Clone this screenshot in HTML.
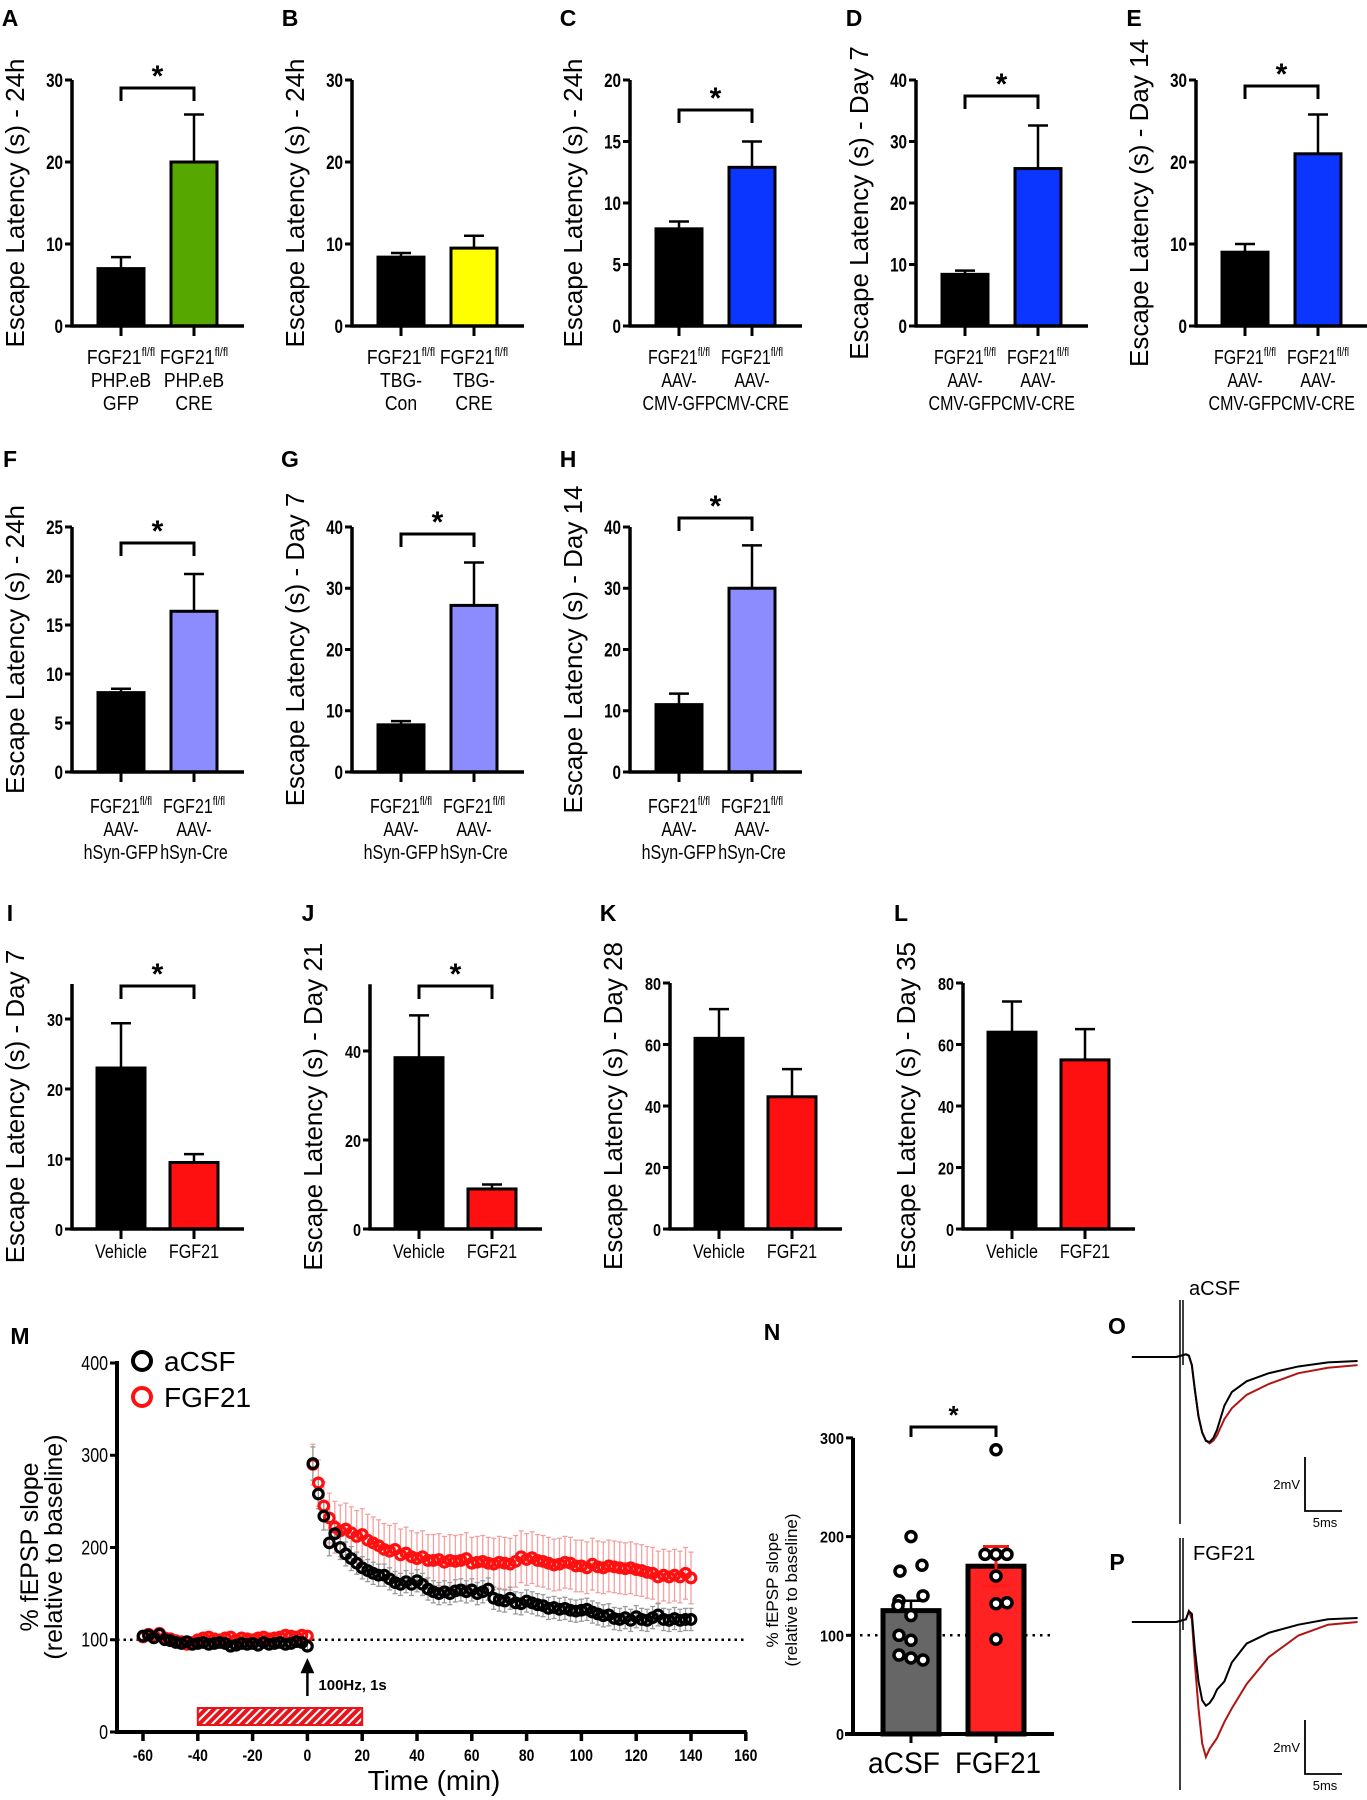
<!DOCTYPE html>
<html><head><meta charset="utf-8"><style>
html,body{margin:0;padding:0;background:#fff}
svg{display:block;font-family:"Liberation Sans",Arial,sans-serif}
</style></head><body>
<svg id="fig" width="1367" height="1800" viewBox="0 0 1367 1800" xmlns="http://www.w3.org/2000/svg">
<defs>
<pattern id="hatch" width="6" height="6" patternUnits="userSpaceOnUse" patternTransform="rotate(45)">
<rect width="6" height="6" fill="#e8141b"/><rect x="0" y="0" width="2" height="6" fill="#fff"/>
</pattern>
</defs>
</svg>
<script>
// ---------- bar panel data ----------
const panelLetters = ["A","B","C","D","E","F","G","H","I","J","K","L"];
const panelYTitles = ["Escape Latency (s) - 24h","Escape Latency (s) - 24h","Escape Latency (s) - 24h","Escape Latency (s) - Day 7","Escape Latency (s) - Day 14","Escape Latency (s) - 24h","Escape Latency (s) - Day 7","Escape Latency (s) - Day 14","Escape Latency (s) - Day 7","Escape Latency (s) - Day 21","Escape Latency (s) - Day 28","Escape Latency (s) - Day 35"];
const ctrlMeans = [7.0, 8.4, 7.9, 8.4, 9.0, 8.1, 7.7, 11.0, 23.0, 38.5, 62, 64];
const ctrlErrs  = [8.4, 8.9, 8.5, 9.0, 10.0, 8.5, 8.3, 12.8, 29.4, 48, 71.5, 74];
const trtMeans  = [20.0, 9.5, 12.9, 25.6, 21.0, 16.4, 27.2, 30.0, 9.5, 9.0, 43, 55];
const trtErrs   = [25.8, 11.0, 15.0, 32.6, 25.8, 20.2, 34.2, 37.0, 10.7, 10.0, 52, 65];
const yMaxTicks = [30, 30, 20, 40, 30, 25, 40, 40, 30, 40, 80, 80];
const yTickSteps = [10, 10, 5, 10, 10, 5, 10, 10, 10, 20, 20, 20];
const yAxisTops = [30, 30, 20, 40, 30, 25, 40, 40, 35, 55, 80, 80];
const significant = [true,false,true,true,true,true,true,true,true,true,false,false];
const trtColors = ["#56a800","#ffff00","#0a36ff","#0a36ff","#0a36ff","#8c8cff","#8c8cff","#8c8cff","#ff1010","#ff1010","#ff1010","#ff1010"];
const ctrlLabels = [["FGF21|fl/fl","PHP.eB","GFP"],["FGF21|fl/fl","TBG-","Con"],["FGF21|fl/fl","AAV-","CMV-GFP"],["FGF21|fl/fl","AAV-","CMV-GFP"],["FGF21|fl/fl","AAV-","CMV-GFP"],["FGF21|fl/fl","AAV-","hSyn-GFP"],["FGF21|fl/fl","AAV-","hSyn-GFP"],["FGF21|fl/fl","AAV-","hSyn-GFP"],["Vehicle"],["Vehicle"],["Vehicle"],["Vehicle"]];
const trtLabels = [["FGF21|fl/fl","PHP.eB","CRE"],["FGF21|fl/fl","TBG-","CRE"],["FGF21|fl/fl","AAV-","CMV-CRE"],["FGF21|fl/fl","AAV-","CMV-CRE"],["FGF21|fl/fl","AAV-","CMV-CRE"],["FGF21|fl/fl","AAV-","hSyn-Cre"],["FGF21|fl/fl","AAV-","hSyn-Cre"],["FGF21|fl/fl","AAV-","hSyn-Cre"],["FGF21"],["FGF21"],["FGF21"],["FGF21"]];
const bracketTops = [88, null, 110, 96, 86, 543, 534, 518, 986, 986, null, null];

// ---------- M panel data ----------
const mTimes = [-60,-58,-56,-54,-52,-50,-48,-46,-44,-42,-40,-38,-36,-34,-32,-30,-28,-26,-24,-22,-20,-18,-16,-14,-12,-10,-8,-6,-4,-2,0,2,4,6,8,10,12,14,16,18,20,22,24,26,28,30,32,34,36,38,40,42,44,46,48,50,52,54,56,58,60,62,64,66,68,70,72,74,76,78,80,82,84,86,88,90,92,94,96,98,100,102,104,106,108,110,112,114,116,118,120,122,124,126,128,130,132,134,136,138,140];
const acsfVals = [104,105,102,106,100,99,97,96,98,95,96,97,95,96,97,96,93,94,96,95,96,94,97,95,96,97,95,96,98,97,93,291,258,234,205,215,200,193,188,183,178,175,172,170,170,166,162,160,163,160,164,160,155,152,150,152,150,153,154,152,154,150,152,155,145,143,142,145,140,139,142,140,138,137,134,135,133,134,132,131,132,133,130,128,126,127,123,122,124,121,125,122,121,124,127,122,121,123,121,122,122];
const acsfErr = [4,4,4,4,4,4,4,4,4,4,4,4,4,4,4,4,4,4,4,4,4,4,4,4,4,4,4,4,4,4,4,18,16,15,14,14,13,13,13,12,12,12,12,12,12,12,12,12,12,12,12,12,12,12,12,12,12,12,12,12,12,12,12,12,12,12,12,12,12,12,12,12,12,12,12,12,12,12,12,12,12,12,12,12,12,12,12,12,12,12,12,12,12,12,12,12,12,12,12,12,12];
const fgfVals = [103,106,104,107,102,101,99,98,95,97,100,102,103,101,100,102,103,100,102,101,100,102,103,101,102,103,105,104,103,105,104,290,270,245,232,222,218,220,216,212,214,208,205,202,198,196,198,192,194,190,188,190,186,186,187,184,186,185,186,188,183,184,185,183,182,184,183,182,185,190,187,189,186,185,183,181,182,184,183,180,180,178,182,179,178,180,179,178,177,178,176,175,173,172,168,170,168,170,168,172,167];
const fgfErr = [5,5,5,5,5,5,5,5,5,5,5,5,5,5,5,5,5,5,5,5,5,5,5,5,5,5,5,5,5,5,5,22,25,26,27,28,28,28,28,28,28,28,28,28,28,28,28,28,28,28,28,28,28,28,28,28,28,28,28,28,28,28,28,28,28,28,28,28,28,28,28,28,28,28,28,28,28,28,28,28,28,28,28,28,28,28,28,28,28,28,28,28,28,28,28,28,28,28,28,28,28];
const mXTicks = [-60,-40,-20,0,20,40,60,80,100,120,140,160];
const mYTicks = [0,100,200,300,400];

// ---------- N panel data ----------
const nGroups = ["aCSF","FGF21"];
const nMeans = [125, 170];
const nErrHi = [135, 190];
const nErrLo = [125, 150];
const nAcsfPts = [200,165,171,140,135,130,120,100,95,80,77,75];
const nFgfPts = [288,182,182,182,160,132,133,96];
const nYTicks = [0,100,200,300];

// ---------- O/P traces (ms, mV) ----------
const trTimes = [-6.5,-4,-2,-0.5,0.8,1.2,1.6,2,2.5,3,3.5,4,4.5,5,6,7,9,12,16,20,24];
const oBlack = [0,0,0,0,0.1,0.05,-0.3,-1.2,-2.2,-2.8,-3.1,-3.15,-3.0,-2.7,-1.8,-1.3,-0.9,-0.6,-0.35,-0.2,-0.15];
const oRed   = [0,0,0,0,0.1,0.05,-0.3,-1.2,-2.2,-2.8,-3.1,-3.2,-3.1,-2.9,-2.3,-1.9,-1.4,-1.0,-0.6,-0.4,-0.3];
const pBlack = [0,0,0,0,0.1,0.4,0.3,-1.0,-2.2,-2.9,-3.1,-3.0,-2.8,-2.5,-2.2,-1.5,-0.8,-0.4,-0.1,0.1,0.15];
const pRed   = [0,0,0,0,0.1,0.4,0.1,-1.5,-3.2,-4.5,-5.0,-4.7,-4.5,-4.3,-3.7,-3.2,-2.3,-1.3,-0.5,-0.1,0.0];

const svg = document.getElementById('fig');
const NS = 'http://www.w3.org/2000/svg';
function mk(tag, attrs, parent){
  const e = document.createElementNS(NS, tag);
  for (const k in attrs) e.setAttribute(k, attrs[k]);
  (parent||svg).appendChild(e);
  return e;
}
function txt(s, attrs, parent){ const t = mk('text', attrs, parent); t.textContent = s; return t; }
function sx(x, s){ return `translate(${x},0) scale(${s},1) translate(${-x},0)`; }

// panel layout (pixel positions, not data)
const layoutAxisX = [72,352,630,916,1196,72,352,630,72,370,670,963];
const layoutY0 =    [326,326,326,326,326,772,772,772,1229,1229,1229,1229];
const layoutYTop =  [80,80,80,80,80,527,527,527,1019,1051,983,983];
const layoutLetterY=[26,26,26,26,26,467,467,467,921,921,921,921];
const layoutLabelY =[364,364,364,364,364,813,813,813,1258,1258,1258,1258];

for (let i=0;i<12;i++){
  const g = mk('g', {});
  
  
  const ax = layoutAxisX[i], y0 = layoutY0[i];
  const pxPer = (y0 - layoutYTop[i]) / yMaxTicks[i];
  const yS = v => y0 - v*pxPer;
  const row3 = i >= 8;
  const c1 = ax + 49, c2 = ax + 122, bw = row3 ? 48 : 46;
  const L = txt(panelLetters[i], {x: ax-62, y: layoutLetterY[i], 'font-size': 23, 'font-weight':'bold', 'text-anchor':'middle'}, g);
  
  
  const yc = (y0 + yS(yAxisTops[i]))/2;
  const yt = txt(panelYTitles[i], {x:0, y:0, 'font-size': 26, 'text-anchor':'middle', transform:`translate(${ax-48},${yc}) rotate(-90)`}, g);
  
  
  [[ctrlMeans[i],ctrlErrs[i],c1,'#000'],[trtMeans[i],trtErrs[i],c2,trtColors[i]]].forEach((b,bi)=>{
    const [m,e,cx,col] = b;
    const el = mk('line', {x1:cx, x2:cx, y1:yS(m), y2:yS(e), stroke:'#000','stroke-width':2.5}, g);
    
    
    const cap = mk('line', {x1:cx-10, x2:cx+10, y1:yS(e), y2:yS(e), stroke:'#000','stroke-width':2.5}, g);
    
    
    const r = mk('rect', {x:cx-bw/2, y:yS(m), width:bw, height:y0-yS(m), fill:col, stroke:'#000','stroke-width':3}, g);
    
    
  });
  const yaxis = mk('line', {x1:ax, x2:ax, y1:y0+1.5, y2:yS(yAxisTops[i]), stroke:'#000','stroke-width':3.5}, g);
  
  
  const xaxis = mk('line', {x1:ax-1.5, x2:ax+172, y1:y0, y2:y0, stroke:'#000','stroke-width':3.5}, g);
  
  
  for (let v=0; v<=yMaxTicks[i]+0.001; v+=yTickSteps[i]){
    mk('line', {x1:ax-7, x2:ax, y1:yS(v), y2:yS(v), stroke:'#000','stroke-width':3}, g);
    const tl = txt(String(v), {x:ax-9, y:yS(v)+7, 'font-size': row3?18:19, 'font-weight':'bold','text-anchor':'end', transform:sx(ax-9, 0.8)}, g);
    
    
  }
  [c1,c2].forEach((cx,ci)=>{
    mk('line', {x1:cx, x2:cx, y1:y0, y2:y0+10, stroke:'#000','stroke-width':3}, g);
    const lines = ci===0 ? ctrlLabels[i] : trtLabels[i];
    lines.forEach((ln,li)=>{
      const parts = ln.split('|');
      const fs = row3 ? 19 : 20;
      const sc = (i<2) ? 0.88 : (row3 ? 0.85 : 0.8);
      const t = mk('text', {x:cx, y:layoutLabelY[i] + li*23, 'font-size':fs, 'text-anchor':'middle', transform: sx(cx, sc)}, g);
      
      
      t.appendChild(document.createTextNode(parts[0]));
      if (parts[1]){
        const sp = document.createElementNS(NS,'tspan');
        sp.setAttribute('font-size', 12); sp.setAttribute('dy', -8);
        sp.textContent = parts[1];
        t.appendChild(sp);
      }
    });
  });
  if (significant[i]){
    const bt = bracketTops[i];
    const br = mk('path', {d:`M${c1},${bt+13} V${bt} H${c2} V${bt+13}`, fill:'none', stroke:'#000','stroke-width':3}, g);
    
    
    const st = txt('*', {x:(c1+c2)/2, y:bt-2, 'font-size':30, 'font-weight':'bold','text-anchor':'middle'}, g);
    
    
  }
}

// ---------- Panel M ----------
(function(){
  const g = mk('g', {});
  
  
  const xS = t => 143 + (t+60)*2.74;
  const yS = v => 1732 - v*0.9225;
  const axX = 117;
  const L = txt('M', {x:20, y:1344, 'font-size':23,'font-weight':'bold','text-anchor':'middle'}, g);
  
  
  const dl = mk('line', {x1:axX, x2:xS(160), y1:yS(100), y2:yS(100), stroke:'#000','stroke-width':2.5,'stroke-dasharray':'2.5 4'}, g);
  
  
  function errs(vals, er, col, name){
    const eg = mk('g', {stroke:col, 'stroke-width':1.3}, g);
    
    
    mTimes.forEach((t,k)=>{
      const x = xS(t);
      mk('line', {x1:x, x2:x, y1:yS(vals[k]-er[k]), y2:yS(vals[k]+er[k])}, eg);
      mk('line', {x1:x-2.5, x2:x+2.5, y1:yS(vals[k]+er[k]), y2:yS(vals[k]+er[k])}, eg);
      mk('line', {x1:x-2.5, x2:x+2.5, y1:yS(vals[k]-er[k]), y2:yS(vals[k]-er[k])}, eg);
    });
  }
  errs(fgfVals, fgfErr, '#f4a0a0', 'fgf21-error-bars');
  errs(acsfVals, acsfErr, '#9a9a9a', 'acsf-error-bars');
  function pts(vals, col, name){
    const pg = mk('g', {fill:'none', stroke:col, 'stroke-width':3.2}, g);
    
    
    mTimes.forEach((t,k)=>{
      const c = mk('circle', {cx:xS(t), cy:yS(vals[k]), r:4.8}, pg);
      
      
    });
  }
  pts(fgfVals, '#ff1010', 'fgf21-series');
  pts(acsfVals, '#000', 'acsf-series');
  const ya = mk('line', {x1:axX, x2:axX, y1:1734, y2:yS(400)-2, stroke:'#000','stroke-width':4}, g);
  
  
  const xa = mk('line', {x1:axX-2, x2:xS(160)+1, y1:1732, y2:1732, stroke:'#000','stroke-width':4}, g);
  
  
  mYTicks.forEach(v=>{
    mk('line', {x1:axX-7, x2:axX, y1:yS(v), y2:yS(v), stroke:'#000','stroke-width':3}, g);
    const t = txt(String(v), {x:108, y:yS(v)+7, 'font-size':20,'text-anchor':'end', transform:sx(108,0.8)}, g);
    
    
  });
  mXTicks.forEach(v=>{
    mk('line', {x1:xS(v), x2:xS(v), y1:1732, y2:1741, stroke:'#000','stroke-width':3.5}, g);
    const t = txt(String(v), {x:xS(v), y:1761, 'font-size':17,'font-weight':'bold','text-anchor':'middle', transform:sx(xS(v),0.82)}, g);
    
    
  });
  const xt = txt('Time (min)', {x:434, y:1790, 'font-size':28,'text-anchor':'middle'}, g);
  
  
  const yt1 = txt('% fEPSP slope', {x:0,y:0,'font-size':25,'text-anchor':'middle', transform:'translate(38,1547) rotate(-90)'}, g);
  
  
  const yt2 = txt('(relative to baseline)', {x:0,y:0,'font-size':25,'text-anchor':'middle', transform:'translate(62,1547) rotate(-90)'}, g);
  
  
  const lg = mk('g', {}, g);
  
  
  const l1 = mk('circle', {cx:142, cy:1361, r:9, fill:'none', stroke:'#000','stroke-width':4}, lg);
  
  
  const lt1 = txt('aCSF', {x:164, y:1371, 'font-size':28}, lg);
  
  
  const l2 = mk('circle', {cx:142, cy:1397, r:9, fill:'none', stroke:'#ff1010','stroke-width':4}, lg);
  
  
  const lt2 = txt('FGF21', {x:164, y:1407, 'font-size':28}, lg);
  
  
  const hb = mk('rect', {x:xS(-40), y:1708, width:xS(20)-xS(-40), height:17, fill:'url(#hatch)', stroke:'#e8141b','stroke-width':2}, g);
  
  
  const ar = mk('path', {d:`M${xS(0)},1696 V1670 M${xS(0)-5},1672 L${xS(0)},1661 L${xS(0)+5},1672 Z`, stroke:'#000','stroke-width':2.5, fill:'#000'}, g);
  
  
  const at = txt('100Hz, 1s', {x:xS(0)+11, y:1690, 'font-size':15,'font-weight':'bold'}, g);
  
  
})();

// ---------- Panel N ----------
(function(){
  const g = mk('g', {});
  
  
  const axX = 853, y0 = 1734;
  const yS = v => y0 - v*0.987;
  const cx = [911, 996], bw = 56;
  const L = txt('N', {x:772, y:1340, 'font-size':23,'font-weight':'bold','text-anchor':'middle'}, g);
  
  
  const dl = mk('line', {x1:860, x2:1052, y1:yS(100), y2:yS(100), stroke:'#000','stroke-width':2.5,'stroke-dasharray':'2.5 5'}, g);
  
  
  const cols = ['#666666', '#ff2222'];
  const labLen = [72, 86];
  const labX = [904, 998];
  nGroups.forEach((gr,k)=>{
    const r = mk('rect', {x:cx[k]-bw/2, y:yS(nMeans[k]), width:bw, height:y0-yS(nMeans[k]), fill:cols[k], stroke:'#000','stroke-width':5}, g);
    
    
    const t = txt(gr, {x:labX[k], y:1773, 'font-size':30,'text-anchor':'middle', textLength:labLen[k], lengthAdjust:'spacingAndGlyphs'}, g);
    
    
  });
  const e1 = mk('path', {d:`M${cx[0]},${yS(nErrLo[0])} V${yS(nErrHi[0])} M${cx[0]-10},${yS(nErrHi[0])} H${cx[0]+10}`, stroke:'#000','stroke-width':2.5, fill:'none'}, g);
  
  
  const e2 = mk('path', {d:`M${cx[1]},${yS(nErrLo[1])} V${yS(nErrHi[1])} M${cx[1]-13},${yS(nErrHi[1])} H${cx[1]+13} M${cx[1]-13},${yS(nErrLo[1])} H${cx[1]+13}`, stroke:'#ff1a1a','stroke-width':3, fill:'none'}, g);
  
  
  const offA = [0,-11,11,12,-12,-13,0,-12,0,-12,0,12];
  const offF = [0,-11,0,11,0,0,11,0];
  [[nAcsfPts,offA,cx[0]],[nFgfPts,offF,cx[1]]].forEach(([arr,off,c])=>{
    arr.forEach((v,k)=>{
      const p = mk('circle', {cx:c + (off[k]||0), cy:yS(v), r:5, fill:'#fff', stroke:'#000','stroke-width':3.5}, g);
      
      
    });
  });
  const ya = mk('line', {x1:axX, x2:axX, y1:y0+2, y2:yS(300), stroke:'#000','stroke-width':4}, g);
  
  
  const xa = mk('line', {x1:axX-8, x2:1054, y1:y0, y2:y0, stroke:'#000','stroke-width':4}, g);
  
  
  nYTicks.forEach(v=>{
    mk('line', {x1:axX-7, x2:axX, y1:yS(v), y2:yS(v), stroke:'#000','stroke-width':3}, g);
    const t = txt(String(v), {x:axX-9, y:yS(v)+6, 'font-size':16,'font-weight':'bold','text-anchor':'end', transform:sx(axX-9,0.9)}, g);
    
    
  });
  cx.forEach(c=>mk('line', {x1:c, x2:c, y1:y0, y2:y0+9, stroke:'#000','stroke-width':3}, g));
  const br = mk('path', {d:`M${cx[0]},${1437} V1427 H${cx[1]} V1437`, fill:'none', stroke:'#000','stroke-width':3}, g);
  
  
  const st = txt('*', {x:(cx[0]+cx[1])/2, y:1424, 'font-size':26,'font-weight':'bold','text-anchor':'middle'}, g);
  
  
  const y1 = txt('% fEPSP slope', {x:0,y:0,'font-size':17,'text-anchor':'middle', transform:'translate(778,1590) rotate(-90)'}, g);
  
  
  const y2 = txt('(relative to baseline)', {x:0,y:0,'font-size':17,'text-anchor':'middle', transform:'translate(797,1590) rotate(-90)'}, g);
  
  
})();

// ---------- Panels O / P ----------
function tracePanel(letter, letterY, base, black, red, label, labelX, labelY, stimTop, stimBot, sbTop){
  const g = mk('g', {});
  
  
  const xS = t => 1180 + t*7.4;
  const yS = v => base - v*27;
  const L = txt(letter, {x:1117, y:letterY, 'font-size':23,'font-weight':'bold','text-anchor':'middle'}, g);
  
  
  const stim = mk('line', {x1:1180, x2:1180, y1:stimTop, y2:stimBot, stroke:'#000','stroke-width':1.5}, g);
  
  
  mk('line', {x1:1183, x2:1183, y1:stimTop, y2:base+8, stroke:'#000','stroke-width':1.5}, g);
  const pr = mk('polyline', {points: trTimes.map((t,k)=>xS(t)+','+yS(red[k])).join(' '), fill:'none', stroke:'#b01515','stroke-width':2}, g);
  
  
  const pb = mk('polyline', {points: trTimes.map((t,k)=>xS(t)+','+yS(black[k])).join(' '), fill:'none', stroke:'#000','stroke-width':2}, g);
  
  
  const sb = mk('path', {d:`M1305,${sbTop} V${sbTop+54} H1342`, fill:'none', stroke:'#000','stroke-width':1.8}, g);
  
  
  const t1 = txt('2mV', {x:1300, y:sbTop+32, 'font-size':13,'text-anchor':'end'}, g);
  
  
  const t2 = txt('5ms', {x:1325, y:sbTop+70, 'font-size':13,'text-anchor':'middle'}, g);
  
  
  const lb = txt(label, {x:labelX, y:labelY, 'font-size':20}, g);
  
  
}
tracePanel('O', 1334, 1357, oBlack, oRed, 'aCSF', 1189, 1295, 1300, 1524, 1457);
tracePanel('P', 1570, 1622, pBlack, pRed, 'FGF21', 1193, 1560, 1538, 1790, 1720);
</script>
</body></html>
